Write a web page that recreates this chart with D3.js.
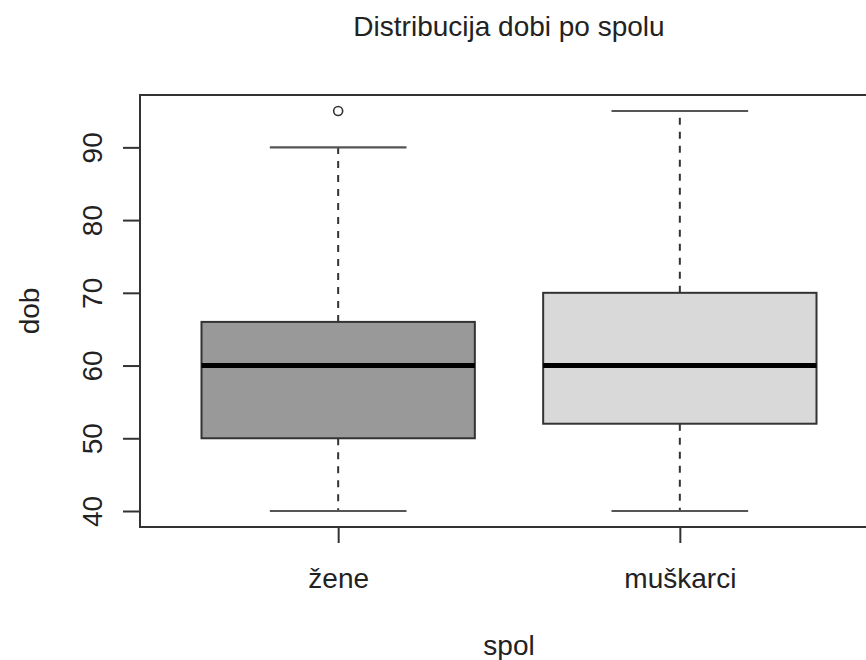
<!DOCTYPE html>
<html>
<head>
<meta charset="utf-8">
<script src="https://cdn.jsdelivr.net/npm/d3@7"></script>
<style>
  html, body { margin: 0; padding: 0; background: #fff; }
  svg text { font-family: "Liberation Sans", Arial, sans-serif; fill: #222; }
</style>
</head>
<body>
<svg id="chart" width="866" height="660"></svg>
<script>
// Age distribution by sex: five-number summaries per group
const categories = ["žene", "muškarci"];
const lowerWhisker = [40, 40];
const q1 = [50, 52];
const median = [60, 60];
const q3 = [66, 70];
const upperWhisker = [90, 95];
const outliers = [[95], []];
const fills = ["#999999", "#d9d9d9"];
const yTicks = [40, 50, 60, 70, 80, 90];

const boxes = categories.map((c, i) => ({
  name: c, pos: i + 1,
  lo: lowerWhisker[i], q1: q1[i], med: median[i], q3: q3[i], hi: upperWhisker[i],
  out: outliers[i], fill: fills[i]
}));

const svg = d3.select("#chart");
const plot = { left: 140, right: 878, top: 95, bottom: 527 };
const fontSize = 28;

const x = d3.scaleLinear().domain([0.42, 2.58]).range([plot.left, plot.right]);
const y = d3.scaleLinear().domain([37.8, 97.2]).range([plot.bottom, plot.top]);
const boxW = 0.8, capW = 0.4;
const lineCol = "#333";

const g = svg.append("g");

// whiskers (dashed) and caps
boxes.forEach(b => {
  [[b.q3, b.hi], [b.q1, b.lo]].forEach(([a, e]) => {
    g.append("line")
      .attr("x1", x(b.pos)).attr("x2", x(b.pos))
      .attr("y1", y(a)).attr("y2", y(e))
      .attr("stroke", lineCol).attr("stroke-width", 2)
      .attr("stroke-dasharray", "7,7");
    g.append("line")
      .attr("x1", x(b.pos - capW / 2)).attr("x2", x(b.pos + capW / 2))
      .attr("y1", y(e)).attr("y2", y(e))
      .attr("stroke", "#555").attr("stroke-width", 2.2);
  });
  // box
  g.append("rect")
    .attr("x", x(b.pos - boxW / 2))
    .attr("width", x(b.pos + boxW / 2) - x(b.pos - boxW / 2))
    .attr("y", y(b.q3))
    .attr("height", y(b.q1) - y(b.q3))
    .attr("fill", b.fill)
    .attr("stroke", lineCol).attr("stroke-width", 2);
  // median
  g.append("line")
    .attr("x1", x(b.pos - boxW / 2)).attr("x2", x(b.pos + boxW / 2))
    .attr("y1", y(b.med)).attr("y2", y(b.med))
    .attr("stroke", "#000").attr("stroke-width", 5);
  // outliers
  b.out.forEach(v => {
    g.append("circle")
      .attr("cx", x(b.pos)).attr("cy", y(v)).attr("r", 4.5)
      .attr("fill", "none").attr("stroke", lineCol).attr("stroke-width", 1.6);
  });
});

// plot frame
svg.append("rect")
  .attr("x", plot.left).attr("y", plot.top)
  .attr("width", plot.right - plot.left).attr("height", plot.bottom - plot.top)
  .attr("fill", "none").attr("stroke", lineCol).attr("stroke-width", 2);

// y axis with rotated tick labels
const yAxis = svg.append("g")
  .attr("transform", `translate(${plot.left},0)`)
  .call(d3.axisLeft(y).tickValues(yTicks).tickSize(17).tickSizeOuter(0).tickPadding(0));
yAxis.select(".domain").remove();
yAxis.selectAll(".tick line").attr("stroke", lineCol).attr("stroke-width", 2);
yAxis.selectAll(".tick text")
  .attr("transform", "rotate(-90)")
  .attr("x", 0).attr("y", -38).attr("dy", 0)
  .attr("text-anchor", "middle")
  .style("font-size", fontSize + "px")
  .style("font-family", "'Liberation Sans', Arial, sans-serif")
  .attr("fill", "#222");

// x axis
const xAxis = svg.append("g")
  .attr("transform", `translate(0,${plot.bottom})`)
  .call(d3.axisBottom(x).tickValues(boxes.map(b => b.pos))
    .tickFormat((d, i) => categories[i]).tickSize(16).tickSizeOuter(0).tickPadding(0));
xAxis.select(".domain").remove();
xAxis.selectAll(".tick line").attr("stroke", lineCol).attr("stroke-width", 2);
xAxis.selectAll(".tick text")
  .attr("y", 61).attr("dy", 0)
  .style("font-size", fontSize + "px")
  .style("font-family", "'Liberation Sans', Arial, sans-serif")
  .attr("fill", "#222");

const cx = (plot.left + plot.right) / 2;
// title
svg.append("text").attr("x", cx).attr("y", 36)
  .attr("text-anchor", "middle").style("font-size", fontSize + "px")
  .text("Distribucija dobi po spolu");
// axis titles
svg.append("text").attr("x", cx).attr("y", 655)
  .attr("text-anchor", "middle").style("font-size", fontSize + "px")
  .text("spol");
svg.append("text")
  .attr("transform", `translate(39,${(plot.top + plot.bottom) / 2}) rotate(-90)`)
  .attr("text-anchor", "middle").style("font-size", fontSize + "px")
  .text("dob");
</script>
</body>
</html>
